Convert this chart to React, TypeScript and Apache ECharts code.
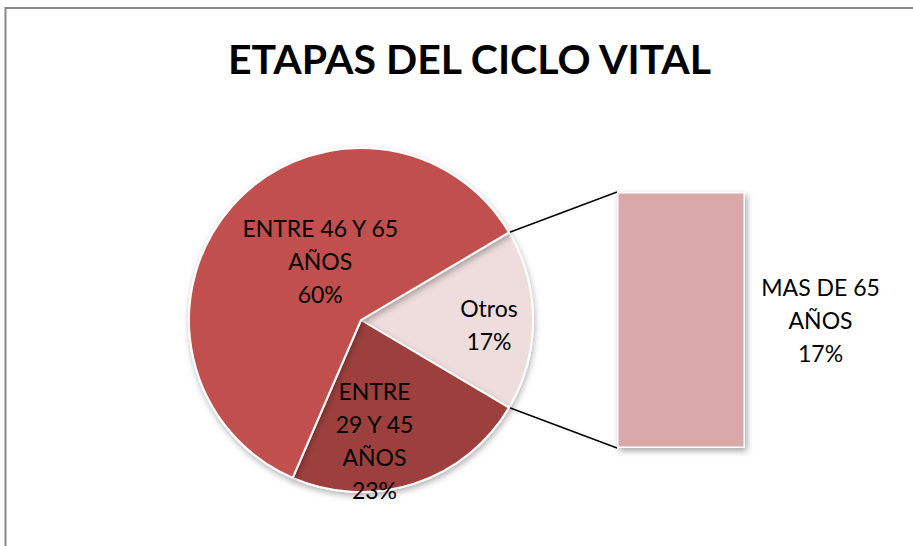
import React, { useEffect, useRef } from "react";
import * as echarts from "echarts";

// Pie (main) categories and values
const pieCategories = ["ENTRE 46 Y 65\nAÑOS", "ENTRE\n29 Y 45\nAÑOS"];
const pieValues = [60, 23];
const otherLabel = "Otros";
// Secondary bar ("pie of bar") categories and values
const barCategories = ["MAS DE 65\nAÑOS"];
const barValues = [17];
const title = "ETAPAS DEL CICLO VITAL";

const COLORS = {
  big: "#C0504D",
  mid: "#9D413E",
  other: "#EEDDDC",
  bar: "#D9A9A9",
};

const FONT = "Lato, 'Open Sans', sans-serif";

export default function App() {
  const ref = useRef<HTMLDivElement>(null);

  useEffect(() => {
    if (!ref.current) return;
    const chart = echarts.init(ref.current, undefined, { renderer: "svg" });
    const otherTotal = barValues.reduce((a, b) => a + b, 0);
    const total = pieValues.reduce((a, b) => a + b, 0) + otherTotal;
    const half = (otherTotal / total) * 180; // other slice centered on horizontal
    const cx = 361;
    const cy = 320;
    const R = 172;

    const pieData = [
      { name: otherLabel, value: otherTotal, itemStyle: { color: COLORS.other } },
      { name: pieCategories[1], value: pieValues[1], itemStyle: { color: COLORS.mid } },
      { name: pieCategories[0], value: pieValues[0], itemStyle: { color: COLORS.big } },
    ];
    const labelShift: Record<number, [number, number]> = {
      0: [19.5, 2],
      1: [-7, 18],
      2: [13, 0],
    };

    chart.setOption({
      animation: false,
      backgroundColor: "#ffffff",
      title: {
        text: title,
        left: 223,
        top: 33,
        textStyle: { fontFamily: FONT, fontWeight: "bold", fontSize: 41, color: "#000" },
      },
      grid: { left: 617, top: 192, width: 128, height: 256 },
      xAxis: { type: "category", data: barCategories, show: false },
      yAxis: { type: "value", min: 0, max: otherTotal, show: false },
      series: [
        {
          type: "pie",
          center: [cx, cy],
          radius: R,
          startAngle: half,
          clockwise: true,
          data: pieData,
          itemStyle: {
            borderColor: "#ffffff",
            borderWidth: 2,
            shadowBlur: 6,
            shadowOffsetY: 3,
            shadowOffsetX: 1,
            shadowColor: "rgba(0,0,0,0.3)",
          },
          label: {
            show: true,
            position: "inside",
            formatter: "{b}\n{d}%",
            fontFamily: FONT,
            fontSize: 23,
            lineHeight: 33,
            color: "#000",
            align: "center",
          },
          labelLine: { show: false },
          labelLayout: (p: any) => {
            const s = labelShift[p.dataIndex] || [0, 0];
            return { dx: s[0], dy: s[1] };
          },
          emphasis: { disabled: true },
        },
        {
          type: "bar",
          data: barValues,
          barWidth: "100%",
          itemStyle: {
            color: COLORS.bar,
            borderColor: "#ffffff",
            borderWidth: 1.5,
            shadowBlur: 6,
            shadowOffsetX: 2,
            shadowOffsetY: 3,
            shadowColor: "rgba(0,0,0,0.35)",
          },
          label: {
            show: true,
            position: ["159%", "50%"],
            align: "center",
            verticalAlign: "middle",
            formatter: (p: any) => `${p.name}\n${Math.round((p.value / total) * 100)}%`,
            fontFamily: FONT,
            fontSize: 23,
            lineHeight: 33,
            color: "#000",
          },
          emphasis: { disabled: true },
        },
      ],
    });

    // connectors from pie "other" slice edges to the bar corners
    const rad = (half * Math.PI) / 180;
    const px = cx + R * Math.cos(rad);
    const pyTop = cy - R * Math.sin(rad);
    const pyBot = cy + R * Math.sin(rad);
    const layout: any = (chart as any)
      .getModel()
      .getSeriesByIndex(1)
      .getData()
      .getItemLayout(0);
    const bx = layout.x;
    const byTop = Math.min(layout.y, layout.y + layout.height);
    const byBot = Math.max(layout.y, layout.y + layout.height);

    chart.setOption({
      graphic: [
        {
          type: "rect",
          shape: { x: 5.5, y: 8, width: 1200, height: 1000 },
          style: { fill: "none", stroke: "#878787", lineWidth: 2 },
          silent: true,
          z: -1,
        },
        {
          type: "line",
          shape: { x1: px, y1: pyTop, x2: bx, y2: byTop },
          style: { stroke: "#000", lineWidth: 1.5 },
          silent: true,
        },
        {
          type: "line",
          shape: { x1: px, y1: pyBot, x2: bx, y2: byBot },
          style: { stroke: "#000", lineWidth: 1.5 },
          silent: true,
        },
      ],
    });

    return () => chart.dispose();
  }, []);

  return (
    <div
      ref={ref}
      style={{ position: "fixed", left: 0, top: 0, width: 913, height: 546 }}
    />
  );
}
